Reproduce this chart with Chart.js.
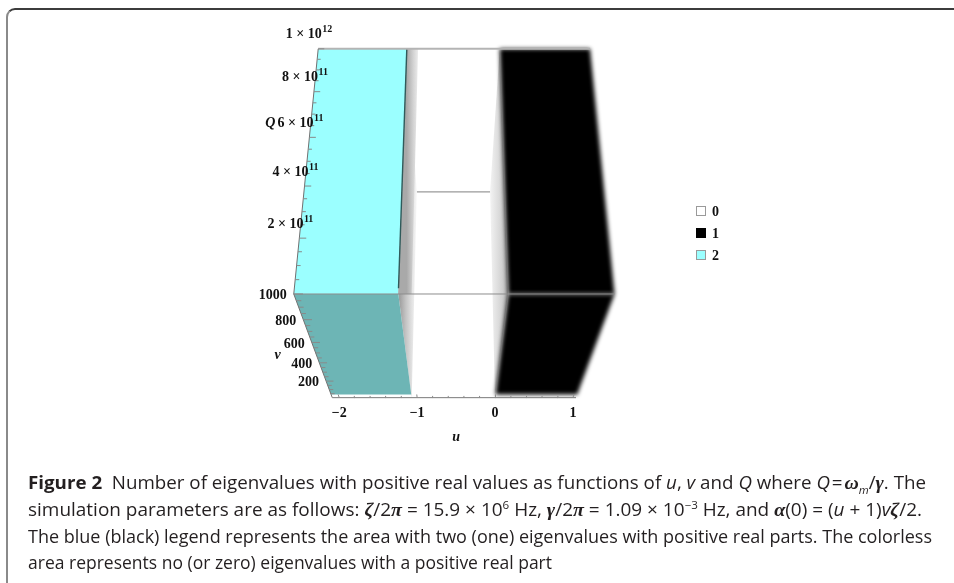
<!DOCTYPE html>
<html><head><meta charset="utf-8">
<script src="https://cdn.jsdelivr.net/npm/chart.js@4.4.1/dist/chart.umd.min.js"></script>
<style>
html,body{margin:0;padding:0;background:#fff;}
body{width:954px;height:583px;position:relative;overflow:hidden;}
#c{position:absolute;left:0;top:0;}
.frame{position:absolute;left:6px;top:8px;width:980px;height:620px;border-top:2px solid #3c3c3c;border-left:2px solid #8a8a8a;border-top-left-radius:9px;box-sizing:border-box;}
.cap{position:absolute;left:28px;font-family:"Open Sans";font-size:18px;line-height:22px;color:#231f20;white-space:nowrap;transform-origin:0 50%;}
.cap b{font-weight:700;}
.g{font-family:"Liberation Serif";font-style:italic;font-weight:700;font-size:19px;}
.cap sup,.cap sub{font-size:11px;line-height:0;}
</style></head><body>
<canvas id="c" width="954" height="583"></canvas>
<div class="frame"></div>
<div class="cap" id="l1" style="top:471px"><b>Figure 2</b>&nbsp; Number of eigenvalues with positive real values as functions of <i>u</i>, <i>v</i> and <i>Q</i> where <i>Q</i>&#8202;=&#8202;<span class="g">ω</span><sub><i>m</i></sub>/<span class="g">γ</span>. The</div>
<div class="cap" id="l2" style="top:498px">simulation parameters are as follows: <span class="g">ζ</span>/2<span class="g">π</span> = 15.9 × 10<sup>6</sup> Hz, <span class="g">γ</span>/2<span class="g">π</span> = 1.09 × 10<sup>−3</sup> Hz, and <span class="g">α</span>(0) = (<i>u</i> + 1)<i>v</i><span class="g">ζ</span>/2.</div>
<div class="cap" id="l3" style="top:525px">The blue (black) legend represents the area with two (one) eigenvalues with positive real parts. The colorless</div>
<div class="cap" id="l4" style="top:551px">area represents no (or zero) eigenvalues with a positive real part</div>
<script>
// ---------------- data ----------------
const uRange = [-2.09, 1.04];
const vRange = [0, 1000];
const qRange = [0, 1e12];
const regionLabels = ['2', '0', '1'];        // eigenvalues with positive real part
const regionUStart = [-2.09, -1.07, 0.0];
const regionUEnd   = [-1.07, 0.0, 1.04];
const regionVMin = 40;
const legendLabels = ['0', '1', '2'];
const uTicks = [-2, -1, 0, 1];
const uTickLabels = ['\u22122', '\u22121', '0', '1'];
const vTicks = [200, 400, 600, 800, 1000];
const vTickLabels = ['200', '400', '600', '800', '1000'];
const qTicks = [2e11, 4e11, 6e11, 8e11, 1e12];
const qTickLabels = ['2 \u00d7 10^11', '4 \u00d7 10^11', '6 \u00d7 10^11', '8 \u00d7 10^11', '1 \u00d7 10^12'];
const axisTitles = { u: 'u', v: 'v', q: 'Q' };

// ---------------- camera (perspective view of the box) ----------------
const CAM = { uc: -0.526, ka: 0.18, kb: 0.316, ha: 290.3, hb: 136.9 };
const VIEW = { xmin: -454 / 102.7, xmax: 500 / 102.7, ymin: -289, ymax: 294 };
function P(u, v, q) {
  const s = (q - qRange[0]) / (qRange[1] - qRange[0]);
  const r = (vRange[1] - v) / (vRange[1] - vRange[0]);
  const w = 1 + CAM.ka * s + CAM.kb * r;
  return { x: (u - CAM.uc) / w, y: (CAM.ha * s - CAM.hb * r) / w };
}

const regionColor = { '2': ['#9bffff', '#6db5b5'], '1': ['#000000', '#000000'], '0': [null, null] };
const legendColor = { '0': '#ffffff', '1': '#000000', '2': '#9bffff' };

const layers = [];
function poly(pts, bg, blur, grad) { layers.push({ kind: 'poly', data: pts.concat([pts[0]]), bg, blur, grad }); }
function line(pts, color, width) { layers.push({ kind: 'line', data: pts, color, width }); }

const [u0, u1] = uRange;
const vT = vRange[1], v0 = vRange[0];
const q0 = qRange[0], q1 = qRange[1];
const ub1 = regionUEnd[0], ub2 = regionUStart[2];
const BEVEL = 0.13;

// far box edge seen through the colorless gap
line([P(ub1, v0, q1), P(ub2, v0, q1)], '#9a9a9a', 1.2);
// wall of region "2" facing the gap
const gL = [P(ub1, vT, q0), P(ub1, v0, q1), [[0, '#979797'], [0.4, '#c2c2c2'], [0.8, '#e8e8e8'], [1, '#f6f6f6']]];
poly([P(ub1, vT, q0), P(ub1, vT, q1), P(ub1, v0, q1), P(ub1, v0, q0)], '#c8c8c8', 0, gL);
// wall of region "1" facing the gap
const gR = [P(ub2, v0, q1), P(ub2, vT, q0), [[0, '#f3f3f3'], [0.5, '#dadada'], [1, '#bdbdbd']]];
poly([P(ub2, vT, q0), P(ub2, vT, q1), P(ub2, v0, q1), P(ub2, v0, q0)], '#dcdcdc', 0, gR);

regionLabels.forEach((lab, i) => {
  const [cA, cB] = regionColor[lab];
  if (!cA) return;
  const a = regionUStart[i], b = regionUEnd[i];
  const blur = lab === '1' ? 2 : 0;
  poly([P(a, vT, q0), P(b, vT, q0), P(b, vT, q1), P(a, vT, q1)], cA, blur);                 // Q face
  poly([P(a, vT, q0), P(b, vT, q0), P(b, regionVMin, q0), P(a, regionVMin, q0)], cB, blur);  // v face
});
// sampling bevel along the boundary of region "2" on the Q face
const gB = [P(ub1, vT, q1), P(ub1 + BEVEL + 0.02, vT, q1), [[0, '#a9a9a9'], [0.5, '#d2d2d2'], [1, '#f4f4f4']]];
poly([P(ub1, vT, q0), P(ub1 + BEVEL, vT, q0), P(ub1 + BEVEL, vT, q1), P(ub1, vT, q1)], '#cccccc', 0, gB);
line([P(ub1, vT, q0 + 0.02 * q1), P(ub1, vT, q1)], '#2f5a5a', 1.4);

// box edges
line([P(u0, vT, q1), P(u1, vT, q1)], '#b4b4b4', 2);
line([P(u0, vT, q0), P(u1, vT, q0)], '#8c8c8c', 1);
line([P(u0, vT, q0), P(u0, vT, q1)], '#707070', 1);
line([P(u0, vT, q0), P(u0, v0, q0)], '#707070', 1);
line([P(u0, v0, q0), P(u1, v0, q0)], '#7a7a7a', 1);

// tick marks
const tk = [];
const seg = (a, b) => { tk.push(a, b, { x: NaN, y: NaN }); };
for (let k = 0; k <= 15; k++) {
  const u = -2 + k * 0.2;
  const major = uTicks.some(t => Math.abs(t - u) < 1e-6);
  seg(P(u, v0, q0), P(u, v0 + (major ? 40 : 22), q0));
}
for (let v = 50; v <= 1000; v += 50) {
  const major = vTicks.includes(v);
  seg(P(u0, v, q0), P(u0 + (major ? 0.09 : 0.05), v, q0));
}
for (let q = 5e10; q <= 1e12 + 1; q += 5e10) {
  const major = qTicks.some(t => Math.abs(t - q) < 1e6);
  seg(P(u0, vT, q), P(u0 + (major ? 0.07 : 0.04), vT, q));
}
line(tk, '#8a8a8a', 1);

const datasets = layers.map((L, i) => ({
  type: 'scatter',
  data: L.data,
  showLine: true,
  pointRadius: 0,
  pointHoverRadius: 0,
  tension: 0,
  spanGaps: false,
  borderWidth: L.kind === 'poly' ? 0 : L.width,
  borderColor: L.kind === 'poly' ? 'rgba(0,0,0,0)' : L.color,
  backgroundColor: L.kind === 'poly' ? L.bg : 'rgba(0,0,0,0)',
  fill: L.kind === 'poly' ? 'shape' : false,
  order: layers.length - i,
  blurPx: L.blur || 0
}));

function filterFor(chart, meta) {
  if (!meta) return 'none';
  const b = chart.data.datasets[meta.index].blurPx;
  return b ? 'blur(' + b + 'px)' : 'none';
}
const fxPlugin = {
  id: 'fx',
  beforeDatasetsDraw(chart) {
    const seq = chart.getSortedVisibleDatasetMetas().slice().reverse();
    chart.$seq = seq;
    chart.ctx.filter = filterFor(chart, seq[0]);
  },
  afterDatasetDraw(chart, args) {
    const seq = chart.$seq || [];
    const k = seq.findIndex(m => m.index === args.index);
    chart.ctx.filter = filterFor(chart, seq[k + 1]);
  },
  afterDatasetsDraw(chart) { chart.ctx.filter = 'none'; }
};

const SERIF = '"Liberation Serif", "Times New Roman", serif';
function drawSup(c, label, xRight, y) {
  const parts = label.split('^');
  c.font = 'bold 14px ' + SERIF;
  const wb = c.measureText(parts[0]).width;
  c.font = 'bold 10px ' + SERIF;
  const ws = parts[1] ? c.measureText(parts[1]).width + 0.5 : 0;
  const x0 = xRight - wb - ws;
  c.textAlign = 'left';
  c.font = 'bold 14px ' + SERIF;
  c.fillText(parts[0], x0, y);
  if (parts[1]) { c.font = 'bold 10px ' + SERIF; c.fillText(parts[1], x0 + wb + 0.5, y - 5); }
}

const axesPlugin = {
  id: 'axes3d',
  afterDraw(chart) {
    const c = chart.ctx, sx = chart.scales.x, sy = chart.scales.y;
    const pix = p => [sx.getPixelForValue(p.x), sy.getPixelForValue(p.y)];
    c.save();
    c.filter = 'none';
    c.fillStyle = '#111';
    c.textBaseline = 'middle';
    qTicks.forEach((q, i) => {
      const [x, y] = pix(P(u0, vT, q));
      drawSup(c, qTickLabels[i], x + 14, y - 14);
    });
    c.font = 'bold 14px ' + SERIF;
    c.textAlign = 'right';
    vTicks.forEach((v, i) => {
      const [x, y] = pix(P(u0, v, q0));
      c.fillText(vTickLabels[i], x - 7, y + 1.5);
    });
    c.textAlign = 'center';
    uTicks.forEach((u, i) => {
      const [x, y] = pix(P(u, v0, q0));
      c.fillText(uTickLabels[i], x, y + 16);
    });
    c.font = 'italic bold 14px ' + SERIF;
    let [x, y] = pix(P(u0, vT, 0.6 * q1));
    c.textAlign = 'center';
    c.fillText(axisTitles.q, x - 39, y - 14);
    [x, y] = pix(P(u0, 0.5 * vT, q0));
    c.fillText(axisTitles.v, x - 38, y + 2);
    [x, y] = pix(P(-0.5, v0, q0));
    c.fillText(axisTitles.u, x, y + 40);
    // legend
    legendLabels.forEach((lab, i) => {
      const lx = 696, ly = 211 + i * 22;
      c.fillStyle = legendColor[lab];
      c.fillRect(lx, ly - 5, 10, 10);
      c.strokeStyle = lab === '1' ? '#000' : '#9a9a9a';
      c.lineWidth = 1;
      c.strokeRect(lx + 0.5, ly - 4.5, 9, 9);
      c.fillStyle = '#111';
      c.font = 'bold 14px ' + SERIF;
      c.textAlign = 'left';
      c.fillText(lab, lx + 16, ly + 1);
    });
    c.restore();
  }
};

const chart = new Chart(document.getElementById('c'), {
  type: 'scatter',
  data: { datasets },
  options: {
    responsive: false,
    animation: false,
    devicePixelRatio: 1,
    events: [],
    layout: { padding: 0 },
    plugins: { legend: { display: false }, tooltip: { enabled: false }, filler: { propagate: false } },
    scales: {
      x: { type: 'linear', display: false, min: VIEW.xmin, max: VIEW.xmax },
      y: { type: 'linear', display: false, min: VIEW.ymin, max: VIEW.ymax }
    }
  },
  plugins: [fxPlugin, axesPlugin]
});

// wall shading gradients, placed through the chart's own x scale
(function applyGradients() {
  const sx = chart.scales.x;
  chart.data.datasets.forEach((ds, i) => {
    const L = layers[i];
    if (!L.grad) return;
    const [a, b, stops] = L.grad;
    const g = chart.ctx.createLinearGradient(sx.getPixelForValue(a.x), 0, sx.getPixelForValue(b.x), 0);
    stops.forEach(([o, c]) => g.addColorStop(o, c));
    ds.backgroundColor = g;
  });
  chart.update('none');
})();

// fit caption lines to the reference widths
const capWidths = { l1: 898, l2: 894, l3: 904, l4: 524 };
function fitCaps() {
  Object.keys(capWidths).forEach(id => {
    const el = document.getElementById(id);
    el.style.transform = 'none';
    const w = el.getBoundingClientRect().width;
    if (w > 0) el.style.transform = 'scaleX(' + (capWidths[id] / w) + ')';
  });
}
fitCaps();
if (document.fonts && document.fonts.ready) document.fonts.ready.then(fitCaps);
</script>
</body></html>
